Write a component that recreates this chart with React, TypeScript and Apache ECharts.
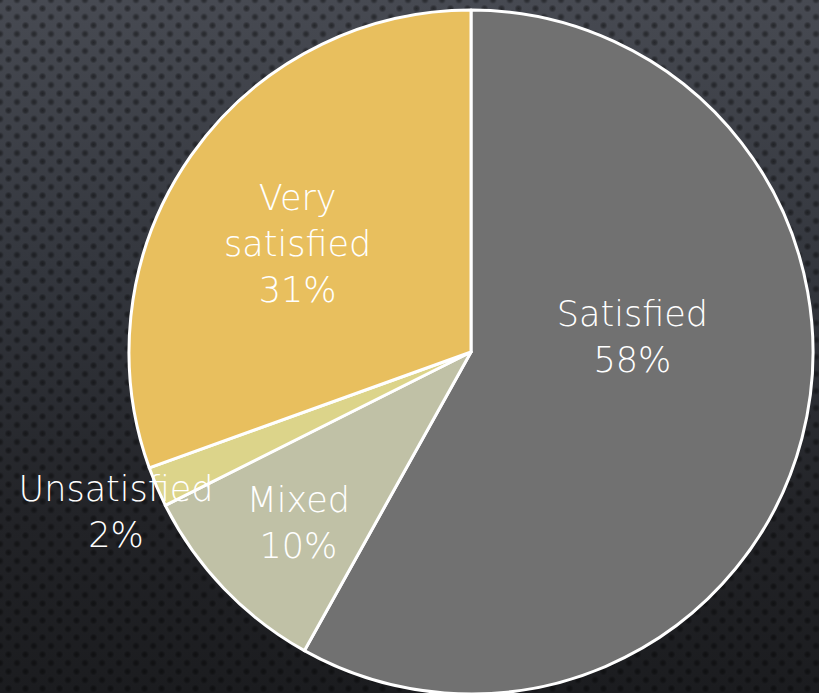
import React, { useEffect, useRef } from "react";
import * as echarts from "echarts";

// Data (percent shares)
const categories = ["Satisfied", "Mixed", "Unsatisfied", "Very satisfied"];
const values = [58.1, 9.5, 1.9, 30.5];
const colors = ["#717171", "#c0c1a6", "#dcd48a", "#e8bf5e"];
// label nudges relative to ECharts' own inside-label position (dx, dy)
const labelNudges: [number, number][] = [
  [-7, -59],
  [-47, 51],
  [-195, 91],
  [-31, -8],
];

export default function App() {
  const ref = useRef<HTMLDivElement>(null);

  useEffect(() => {
    if (!ref.current) return;
    const chart = echarts.init(ref.current, undefined, { renderer: "svg" });
    chart.setOption({
      animation: false,
      backgroundColor: "transparent",
      series: [
        {
          type: "pie",
          center: [471, 352],
          radius: 342,
          startAngle: 90,
          clockwise: true,
          avoidLabelOverlap: false,
          data: categories.map((name, i) => ({
            name,
            value: values[i],
            itemStyle: { color: colors[i] },
          })),
          itemStyle: { borderColor: "#ffffff", borderWidth: 3 },
          label: {
            show: true,
            position: "inside",
            color: "#ffffff",
            fontFamily: "DejaVu Sans",
            fontWeight: 200,
            fontSize: 35,
            lineHeight: 46,
            textBorderWidth: 0,
            formatter: (p: any) =>
              (p.name === "Very satisfied" ? "Very\nsatisfied" : p.name) +
              "\n" +
              Math.round(p.value) +
              "%",
          },
          labelLine: { show: false },
          labelLayout: (p: any) => ({
            dx: labelNudges[p.dataIndex][0],
            dy: labelNudges[p.dataIndex][1],
          }),
          emphasis: { disabled: true },
        },
      ],
    });
    return () => chart.dispose();
  }, []);

  const bg =
    "radial-gradient(circle, rgba(0,0,0,0.45) 0px, rgba(0,0,0,0.32) 2px, rgba(0,0,0,0) 4px)," +
    "radial-gradient(circle, rgba(0,0,0,0.45) 0px, rgba(0,0,0,0.32) 2px, rgba(0,0,0,0) 4px)," +
    "linear-gradient(180deg, #474a52 0%, #33363d 40%, #222327 75%, #1b1c1f 100%)";

  return (
    <div
      style={{
        position: "absolute",
        left: 0,
        top: 0,
        width: 819,
        height: 693,
        overflow: "hidden",
        backgroundImage: bg,
        backgroundSize: "17px 17px, 17px 17px, 100% 100%",
        backgroundPosition: "0px 0px, 8.5px 8.5px, 0 0",
      }}
    >
      <div ref={ref} style={{ width: 819, height: 693 }} />
    </div>
  );
}
